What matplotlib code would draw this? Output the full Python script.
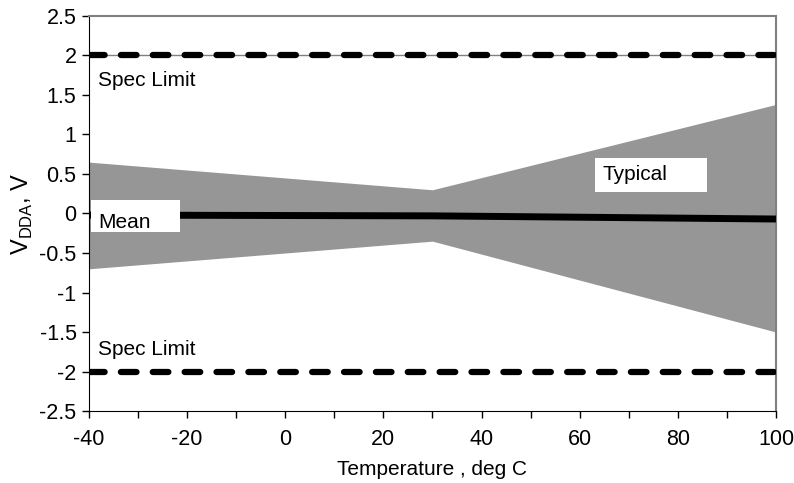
import matplotlib.pyplot as plt
import matplotlib.patches as mpatches
import numpy as np

plt.rcParams['font.family'] = ['Liberation Sans', 'DejaVu Sans']
plt.rcParams['axes.unicode_minus'] = False
plt.rcParams['mathtext.fontset'] = 'custom'
plt.rcParams['mathtext.rm'] = 'Liberation Sans'

# Datos
temps = [-40, 30, 100]
typ_upper = [0.65, 0.30, 1.38]
typ_lower = [-0.70, -0.35, -1.50]
mean_vals = [-0.02, -0.03, -0.07]
spec_limits = [2.0, -2.0]

fig = plt.figure(figsize=(7.94, 4.83), dpi=100)
ax = fig.add_axes([0.1121, 0.149, 0.8652, 0.818])

ax.fill_between(temps, typ_lower, typ_upper, color='#969696', lw=0, zorder=1)
ax.plot(temps, mean_vals, color='black', lw=5, solid_capstyle='butt', zorder=3)

# línea fina de la rejilla en 2
ax.axhline(2.0, color='#808080', lw=1, zorder=2)
for lim in spec_limits:
    ax.plot([-40, 100], [lim, lim], color='black', lw=4.5,
            dashes=(2.5, 2.6), dash_capstyle='round', zorder=4)

# cajas blancas de las etiquetas
ax.add_patch(mpatches.Rectangle((-39.6, -0.24), 18.15, 0.405, facecolor='white',
                                edgecolor='none', zorder=5))
ax.add_patch(mpatches.Rectangle((63.1, 0.27), 22.8, 0.43, facecolor='white',
                                edgecolor='none', zorder=5))

ax.text(-38.2, 1.68, 'Spec Limit', fontsize=15, ha='left', va='center', zorder=6)
ax.text(-38.2, -1.72, 'Spec Limit', fontsize=15, ha='left', va='center', zorder=6)
ax.text(-38.2, -0.11, 'Mean', fontsize=15, ha='left', va='center', zorder=6)
ax.text(64.7, 0.49, 'Typical', fontsize=15, ha='left', va='center', zorder=6)

ax.set_xlim(-40, 100)
ax.set_ylim(-2.5, 2.5)
ax.set_xticks(np.arange(-40, 101, 20))
ax.set_xticks(np.arange(-40, 101, 10), minor=True)
ax.set_yticks(np.arange(-2.5, 2.51, 0.5))
ax.set_yticklabels(['-2.5', '-2', '-1.5', '-1', '-0.5', '0', '0.5', '1', '1.5', '2', '2.5'])
ax.tick_params(axis='both', labelsize=15.5, direction='out', length=5, width=1)
ax.tick_params(axis='x', which='minor', length=5, width=1)
ax.tick_params(axis='x', pad=8)
ax.tick_params(axis='y', pad=4)

ax.spines['top'].set_color('#808080')
ax.spines['right'].set_color('#808080')
ax.spines['top'].set_linewidth(1.5)
ax.spines['right'].set_linewidth(1.5)

ax.set_xlabel('Temperature , deg C', fontsize=15, labelpad=7)
ax.set_ylabel('V$_{\\mathregular{DDA}}$, V', fontsize=17, labelpad=3)

fig.savefig('out.png', dpi=100)
